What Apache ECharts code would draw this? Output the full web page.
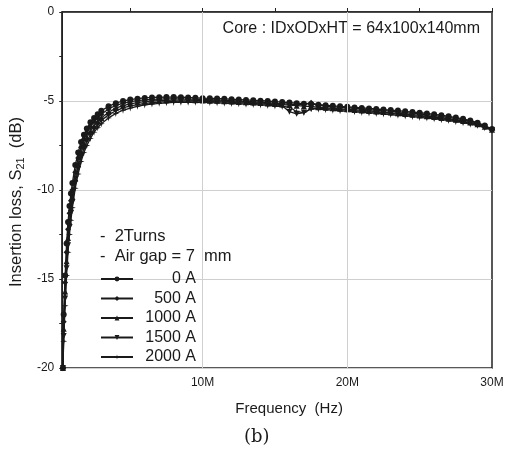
<!DOCTYPE html>
<html>
<head>
<meta charset="utf-8">
<script src="https://cdn.jsdelivr.net/npm/echarts@6/dist/echarts.min.js"></script>
<style>
    html, body { margin: 0; padding: 0; background: #fff; }
    #chart { width: 509px; height: 462px; }
</style>
</head>
<body>
<div id="chart"></div>
<script>
// frequency in MHz
let freq = [0.35, 0.4, 0.5, 0.6, 0.7, 0.8, 0.9, 1.0, 1.2, 1.4, 1.6, 1.8, 2.0, 2.25, 2.5, 2.75, 3.0, 3.5,
    4, 4.5, 5, 5.5, 6, 6.5, 7, 7.5, 8, 8.5, 9, 9.5, 10,
    10.5, 11, 11.5, 12, 12.5, 13, 13.5, 14, 14.5, 15, 15.5, 16, 16.5, 17, 17.5, 18, 18.5, 19, 19.5, 20,
    20.5, 21, 21.5, 22, 22.5, 23, 23.5, 24, 24.5, 25, 25.5, 26, 26.5, 27, 27.5, 28, 28.5, 29, 29.5, 30]

let s0A = [-20, -17, -14.8, -13.0, -11.8, -10.9, -10.2, -9.6, -8.6, -7.9, -7.3, -6.9, -6.55, -6.2, -5.95, -5.75, -5.55, -5.3,
    -5.12, -5.0, -4.92, -4.87, -4.83, -4.8, -4.79, -4.78, -4.78, -4.79, -4.8, -4.82, -4.84,
    -4.85, -4.86, -4.88, -4.9, -4.92, -4.94, -4.96, -4.98, -5.0, -5.03, -5.06, -5.09, -5.12, -5.15, -5.18, -5.21, -5.24, -5.27, -5.3, -5.33,
    -5.36, -5.39, -5.42, -5.45, -5.48, -5.51, -5.54, -5.58, -5.62, -5.66, -5.7, -5.75, -5.8, -5.86, -5.93, -6.0, -6.1, -6.22, -6.38, -6.58]
let s500A = [-20, -17.4, -15.2, -13.5, -12.2, -11.3, -10.6, -10.0, -9.0, -8.2, -7.6, -7.15, -6.8, -6.45, -6.15, -5.95, -5.75, -5.45,
    -5.25, -5.13, -5.04, -4.98, -4.94, -4.91, -4.89, -4.88, -4.88, -4.88, -4.89, -4.9, -4.92,
    -4.93, -4.94, -4.96, -4.98, -5.0, -5.02, -5.04, -5.06, -5.09, -5.12, -5.15, -5.18, -5.21, -5.18, -5.1, -5.22, -5.3, -5.33, -5.36, -5.39,
    -5.42, -5.45, -5.48, -5.51, -5.54, -5.57, -5.61, -5.65, -5.69, -5.73, -5.77, -5.82, -5.87, -5.93, -5.99, -6.06, -6.15, -6.26, -6.41, -6.6]
let s1000A = [-20, -17.8, -15.7, -14.0, -12.7, -11.8, -11.0, -10.4, -9.35, -8.55, -7.9, -7.45, -7.05, -6.7, -6.4, -6.15, -5.95, -5.63,
    -5.4, -5.26, -5.16, -5.09, -5.04, -5.0, -4.98, -4.96, -4.95, -4.95, -4.95, -4.96, -4.97,
    -4.98, -4.99, -5.01, -5.03, -5.05, -5.07, -5.09, -5.11, -5.14, -5.17, -5.2, -5.23, -5.26, -5.29, -5.32, -5.35, -5.38, -5.41, -5.44, -5.47,
    -5.5, -5.53, -5.56, -5.59, -5.62, -5.65, -5.69, -5.73, -5.77, -5.81, -5.85, -5.9, -5.95, -6.0, -6.06, -6.13, -6.21, -6.3, -6.44, -6.62]
let s1500A = [-20, -18.2, -16.1, -14.4, -13.1, -12.1, -11.3, -10.7, -9.6, -8.8, -8.15, -7.65, -7.25, -6.9, -6.57, -6.32, -6.1, -5.78,
    -5.55, -5.39, -5.28, -5.2, -5.14, -5.09, -5.06, -5.04, -5.02, -5.01, -5.01, -5.01, -5.02,
    -5.03, -5.04, -5.06, -5.08, -5.1, -5.12, -5.14, -5.16, -5.19, -5.22, -5.26, -5.6, -5.72, -5.65, -5.45, -5.4, -5.43, -5.46, -5.49, -5.52,
    -5.55, -5.58, -5.61, -5.64, -5.67, -5.7, -5.74, -5.78, -5.82, -5.86, -5.9, -5.95, -6.0, -6.05, -6.11, -6.18, -6.26, -6.34, -6.47, -6.63]
let s2000A = [-20, -18.5, -16.5, -14.8, -13.5, -12.5, -11.7, -11.0, -9.9, -9.1, -8.4, -7.9, -7.5, -7.1, -6.75, -6.5, -6.28, -5.95,
    -5.7, -5.52, -5.4, -5.3, -5.22, -5.17, -5.13, -5.1, -5.08, -5.07, -5.07, -5.07, -5.08,
    -5.09, -5.1, -5.12, -5.14, -5.16, -5.18, -5.2, -5.22, -5.25, -5.28, -5.31, -5.34, -5.6, -5.65, -5.42, -5.46, -5.49, -5.52, -5.55, -5.58,
    -5.61, -5.64, -5.67, -5.7, -5.73, -5.76, -5.8, -5.84, -5.88, -5.92, -5.96, -6.0, -6.05, -6.1, -6.16, -6.22, -6.3, -6.38, -6.5, -6.64]

let seriesNames = ['0 A', '500 A', '1000 A', '1500 A', '2000 A']
let seriesValues = [s0A, s500A, s1000A, s1500A, s2000A]
let symbols = ['circle', 'diamond', 'triangle', 'triangle', 'path://M5,0 L6,4 L10,5 L6,6 L5,10 L4,6 L0,5 L4,4 Z']
let symbolSizes = [6, 6, 6, 6, 7]
let symbolRotates = [0, 0, 0, 180, 0]
let xTicks = [5, 10, 15, 20, 25, 30]
let xLabels = [10, 20, 30]
let xGrid = [10, 20]

let fontName = 'Liberation Sans'
let ink = '#1a1a1a'

let series = seriesNames.map((name, i) => {
    return {
        name: name,
        type: 'line',
        smooth: false,
        symbol: symbols[i],
        symbolSize: symbolSizes[i],
        symbolRotate: symbolRotates[i],
        itemStyle: { color: ink },
        lineStyle: { color: ink, width: 1.3 },
        z: 3,
        data: freq.map((f, k) => [f, seriesValues[i][k]])
    }
})
// vertical grid lines at 10M / 20M
series.push({
    type: 'line',
    data: [],
    z: 1,
    markLine: {
        silent: true,
        symbol: 'none',
        label: { show: false },
        lineStyle: { color: '#cfcfcf', type: 'solid', width: 1 },
        data: xGrid.map(v => ({ xAxis: v }))
    }
})

let option = {
    backgroundColor: '#fff',
    animation: false,
    grid: {
        left: 58,
        right: 17,
        top: 12,
        bottom: 94,
        show: true,
        borderColor: '#222',
        borderWidth: 1.5,
        containLabel: false
    },
    legend: {
        orient: 'vertical',
        left: 95,
        top: 266,
        itemWidth: 32,
        itemHeight: 6,
        itemGap: 3.5,
        selectedMode: false,
        formatter: '{t|{name}}',
        textStyle: {
            color: ink,
            fontFamily: fontName,
            fontSize: 16,
            rich: {
                t: { width: 58, align: 'right', fontSize: 16, fontFamily: fontName, color: ink }
            }
        },
        data: seriesNames
    },
    xAxis: {
        type: 'value',
        min: 0.3,
        max: 30,
        name: 'Frequency  (Hz)',
        nameLocation: 'middle',
        nameGap: 33,
        nameTextStyle: { color: ink, fontFamily: fontName, fontSize: 15, padding: [0, 0, 0, 24] },
        axisLine: { show: true, lineStyle: { color: '#222', width: 1.5 } },
        axisTick: { show: true, inside: true, length: 4, customValues: xTicks, lineStyle: { color: '#222' } },
        axisLabel: {
            customValues: xLabels,
            color: ink,
            fontFamily: fontName,
            fontSize: 12,
            margin: 9,
            formatter: v => v + 'M'
        },
        splitLine: { show: false }
    },
    yAxis: {
        type: 'value',
        min: -20,
        max: 0,
        interval: 5,
        name: 'Insertion loss, S{sub|21}  (dB)',
        nameLocation: 'middle',
        nameGap: 30,
        nameTextStyle: {
            color: ink,
            fontFamily: fontName,
            fontSize: 16.5,
            padding: [0, 24, 0, 0],
            rich: {
                sub: { fontSize: 11, fontFamily: fontName, color: ink, verticalAlign: 'bottom', padding: [8, 0, 0, 0] }
            }
        },
        axisLine: { show: true, lineStyle: { color: '#222', width: 1.5 } },
        axisTick: { show: true, length: 3, lineStyle: { color: '#222' } },
        minorTick: { show: true, splitNumber: 2, length: 3, lineStyle: { color: '#222' } },
        axisLabel: { color: ink, fontFamily: fontName, fontSize: 12, margin: 8 },
        splitLine: { show: true, lineStyle: { color: '#cfcfcf', width: 1 } }
    },
    graphic: [
        {
            type: 'text', right: 29, top: 21,
            style: { text: 'Core : IDxODxHT = 64x100x140mm', fill: ink, font: '16px "Liberation Sans"' }
        },
        {
            type: 'text', left: 100, top: 228,
            style: { text: '-  2Turns', fill: ink, font: '16.5px "Liberation Sans"' }
        },
        {
            type: 'text', left: 100, top: 248,
            style: { text: '-  Air gap = 7  mm', fill: ink, font: '16.5px "Liberation Sans"' }
        },
        {
            type: 'text', left: 244, top: 428,
            style: { text: '(b)', fill: ink, font: '18px "DejaVu Serif"' }
        }
    ],
    series: series
}

var myChart = echarts.init(document.getElementById('chart'))
myChart.setOption(option)
</script>
</body>
</html>
